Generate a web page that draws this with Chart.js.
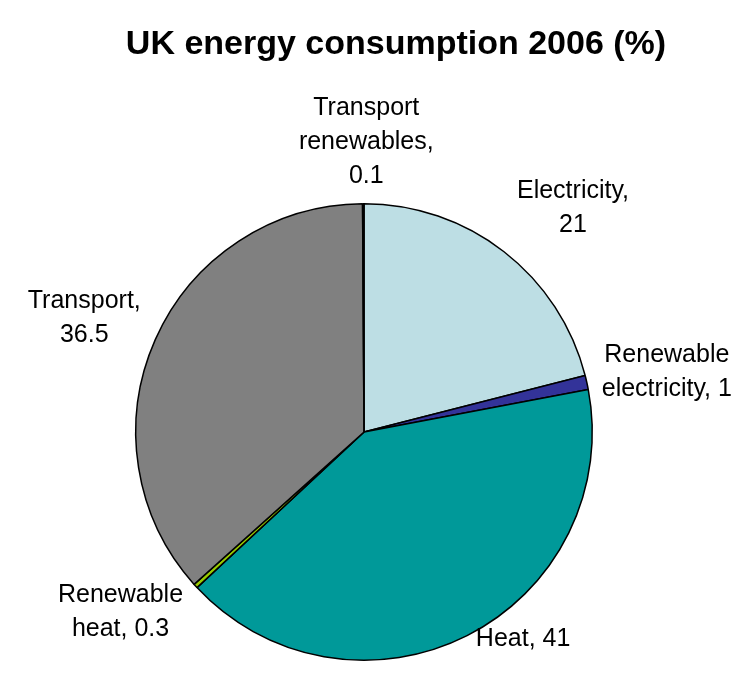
<!DOCTYPE html>
<html>
<head>
<meta charset="utf-8">
<script src="https://cdn.jsdelivr.net/npm/chart.js@4/dist/chart.umd.min.js"></script>
<style>
  html, body { margin: 0; padding: 0; background: #ffffff; }
  #wrap { width: 743px; height: 675px; }
</style>
</head>
<body>
<div id="wrap"><canvas id="c" width="743" height="675"></canvas></div>
<script>
// ---- data ----
const chartTitle = 'UK energy consumption 2006 (%)';
const categories = ['Electricity', 'Renewable electricity', 'Heat', 'Renewable heat', 'Transport', 'Transport renewables'];
const values = [21, 1, 41, 0.3, 36.5, 0.1];
// label text lines (as shown on the chart)
const labelLines = [
  ['Electricity,', '21'],
  ['Renewable', 'electricity, 1'],
  ['Heat, 41'],
  ['Renewable', 'heat, 0.3'],
  ['Transport,', '36.5'],
  ['Transport', 'renewables,', '0.1']
];

// ---- styles / layout ----
const sliceColors = ['#BDDEE4', '#333399', '#009999', '#99CC00', '#808080', '#CCFFCC'];
// offset of each label's centre from the slice's outer edge at its mid angle
const labelOffsets = [[69, -44], [80, -10], [56, 3], [-75, 26], [-71, -22], [3, -62]];
const FONT = '"Liberation Sans", Arial, sans-serif';

const labelPlugin = {
  id: 'sliceLabels',
  afterDatasetsDraw(chart) {
    const ctx = chart.ctx;
    const meta = chart.getDatasetMeta(0);
    ctx.save();
    ctx.fillStyle = '#000000';
    ctx.font = '25px ' + FONT;
    ctx.textAlign = 'center';
    ctx.textBaseline = 'middle';
    const lh = 34;
    meta.data.forEach((arc, i) => {
      const p = arc.getProps(['x', 'y', 'startAngle', 'endAngle', 'outerRadius'], true);
      const mid = (p.startAngle + p.endAngle) / 2;
      const ax = p.x + Math.cos(mid) * p.outerRadius + labelOffsets[i][0];
      const ay = p.y + Math.sin(mid) * p.outerRadius + labelOffsets[i][1];
      const lines = labelLines[i];
      const top = ay - (lines.length - 1) * lh / 2;
      lines.forEach((t, k) => ctx.fillText(t, ax, top + k * lh));
    });
    ctx.restore();
  },
  afterDraw(chart) {
    const ctx = chart.ctx;
    ctx.save();
    ctx.fillStyle = '#000000';
    ctx.font = 'bold 34px ' + FONT;
    ctx.textAlign = 'center';
    ctx.textBaseline = 'middle';
    ctx.fillText(chartTitle, 396, 45);
    ctx.restore();
  }
};

new Chart(document.getElementById('c'), {
  type: 'pie',
  data: {
    labels: categories,
    datasets: [{
      data: values,
      backgroundColor: sliceColors,
      borderColor: '#000000',
      borderWidth: 1.5
    }]
  },
  options: {
    responsive: false,
    animation: false,
    layout: { padding: { left: 135, right: 150, top: 203, bottom: 14 } },
    plugins: {
      legend: { display: false },
      tooltip: { enabled: false },
      title: { display: false }
    }
  },
  plugins: [labelPlugin]
});
</script>
</body>
</html>
